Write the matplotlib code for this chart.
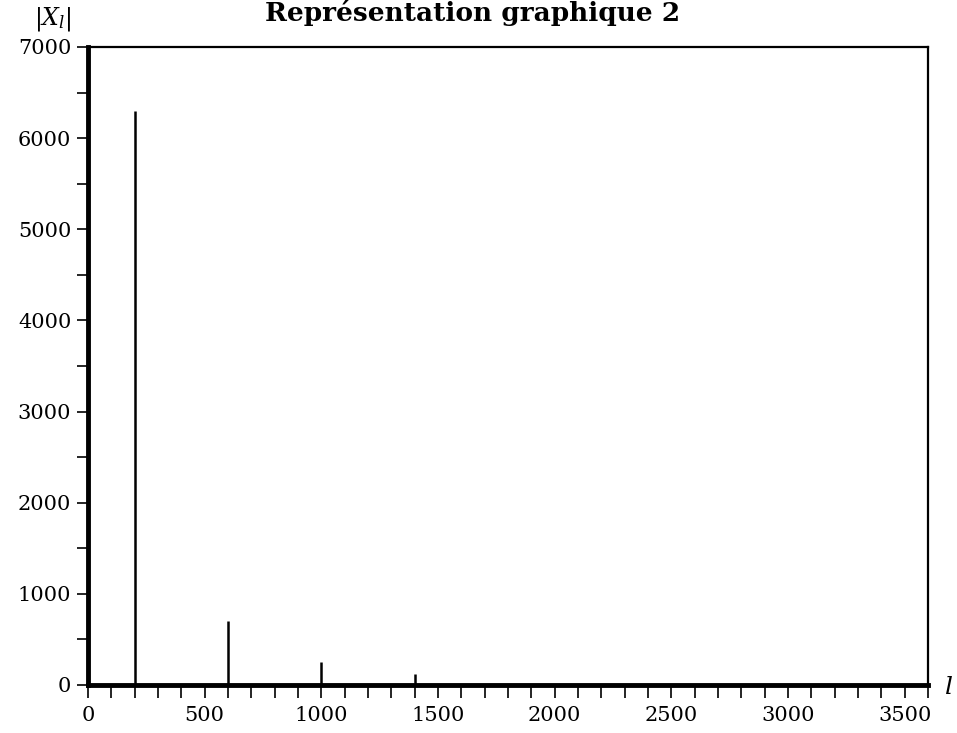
import matplotlib
matplotlib.use("Agg")
import matplotlib.pyplot as plt
from matplotlib.ticker import MultipleLocator

# Data
l_values = [200, 600, 1000, 1400]
magnitudes = [6300, 700, 250, 120]
x_major_ticks = [0, 500, 1000, 1500, 2000, 2500, 3000, 3500]
y_major_ticks = [0, 1000, 2000, 3000, 4000, 5000, 6000, 7000]
title = "Représentation graphique 2"

plt.rcParams['font.family'] = ['DejaVu Serif']
plt.rcParams['mathtext.fontset'] = 'dejavuserif'

W, H = 957, 733
fig = plt.figure(figsize=(W / 100, H / 100), dpi=100)
left, right, top, bottom = 88, 928, 47, 685
ax = fig.add_axes([left / W, 1 - bottom / H, (right - left) / W, (bottom - top) / H])

ax.vlines(l_values, 0, magnitudes, colors='black', linewidth=1.8)

ax.set_xlim(0, 3600)
ax.set_ylim(0, 7000)
ax.set_xticks(x_major_ticks)
ax.set_yticks(y_major_ticks)
ax.xaxis.set_minor_locator(MultipleLocator(100))
ax.yaxis.set_minor_locator(MultipleLocator(500))

ax.tick_params(axis='both', which='both', direction='out', color='black', width=1.2, labelsize=15)
ax.tick_params(axis='x', which='both', length=9, pad=6)
ax.tick_params(axis='y', which='both', length=8, pad=4)

ax.spines['left'].set_linewidth(3.5)
ax.spines['bottom'].set_linewidth(3.5)
ax.spines['top'].set_linewidth(1.6)
ax.spines['right'].set_linewidth(1.6)

fig.text(53 / W, 1 - 19 / H, r'$|X_l|$', fontsize=17, ha='center', va='center')
fig.text(948 / W, 1 - 688 / H, r'$l$', fontsize=18, ha='center', va='center')
fig.text(473 / W, 1 - 21 / H, title, fontsize=19, fontweight='bold', ha='center', va='baseline')

fig.savefig('out.png', dpi=100)
